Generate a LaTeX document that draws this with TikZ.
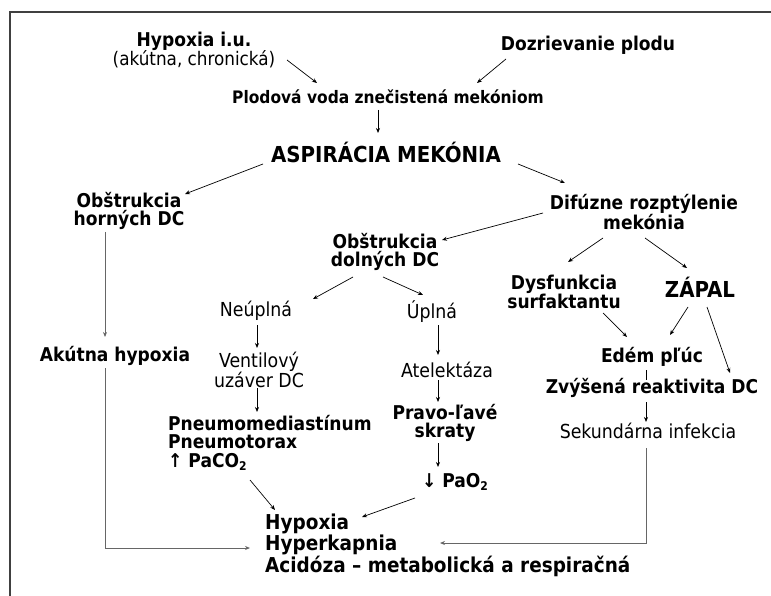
\documentclass[tikz,border=0pt]{standalone}
\usepackage{fontspec}
\setmainfont{DejaVu Sans Condensed}
\usetikzlibrary{arrows.meta,calc}
\newcommand\mysubtwo{\raisebox{-0.35ex}{\fontsize{12}{12}\selectfont 2}}
\begin{document}
\begin{tikzpicture}[x=1pt,y=-1pt,
  lbl/.style={inner sep=0pt, align=center},
  bold/.style={lbl, font=\fontsize{19}{18.5}\selectfont\bfseries},
  reg/.style={lbl, font=\fontsize{19.3}{18.5}\selectfont},
  big/.style={lbl, font=\fontsize{22}{24}\selectfont\bfseries},
  res/.style={lbl, align=left, anchor=west, font=\fontsize{20.5}{18.5}\selectfont\bfseries},
  arr/.style={-{Stealth[length=5pt,width=4pt]}, line width=0.7pt},
  route/.style={arr, draw=black!60, line width=1pt},
  frame/.style={draw=black!75, line width=1.6pt}]
\useasboundingbox (0,0) rectangle (771,596);
\draw[frame] (10,596) -- (10,12) -- (771,12);

\node[lbl] (hyp) at (194,50) {{\fontsize{19}{17}\selectfont\bfseries Hypoxia i.u.}\\[-1pt]{\fontsize{18.7}{17}\selectfont (akútna, chronická)}};
\node[bold] (dozr) at (588,45) {Dozrievanie plodu};
\node[bold, font=\fontsize{17.2}{17}\selectfont\bfseries] (plod) at (388,97) {Plodová voda znečistená mekóniom};
\node[big] (asp) at (386,152) {ASPIRÁCIA MEKÓNIA};
\node[bold] (obsh) at (129,211) {Obštrukcia\\horných DC};
\node[bold] (dif) at (644,212) {Difúzne rozptýlenie\\mekónia};
\node[bold] (obsd) at (385,252) {Obštrukcia\\dolných DC};
\node[bold] (akut) at (115,356) {Akútna hypoxia};
\node[reg] (neup) at (256,311) {Neúplná};
\node[reg] (upl) at (432,312) {Úplná};
\node[reg] (vent) at (259,370) {Ventilový\\uzáver DC};
\node[reg] (atel) at (447,370) {Atelektáza};
\node[bold] (dys) at (564,292) {Dysfunkcia\\surfaktantu};
\node[big] (zap) at (700,287) {ZÁPAL};
\node[bold] (edem) at (652,357) {Edém pľúc};
\node[bold] (zvys) at (652,388) {Zvýšená reaktivita DC};
\node[bold, align=left, anchor=west] (pneu) at (168,443) {Pneumomediastínum\\Pneumotorax\\↑ PaCO\mysubtwo};
\node[bold] (prav) at (445,423) {Pravo-ľavé\\skraty};
\node[bold] (pao) at (455,482) {↓ PaO\mysubtwo};
\node[reg] (sek) at (648,431) {Sekundárna infekcia};
\node[res] (hyx) at (265,545) {Hypoxia\\Hyperkapnia\\Acidóza – metabolická a respiračná};

\draw[arr] ($(hyp)+(93,10)$) -- ($(plod)+(-71,-14)$);
\draw[arr] ($(dozr)+(-82,14)$) -- ($(plod)+(89,-14)$);
\draw[arr] ($(plod)+(-10,13)$) -- ($(asp)+(-8,-19)$);
\draw[arr] ($(asp)+(-123,12)$) -- ($(obsh)+(56,-17)$);
\draw[arr] ($(asp)+(132,12)$) -- ($(dif)+(-79,-29)$);
\draw[route] ($(obsh)+(-24,21)$) -- ($(akut)+(-10,-19)$);
\draw[arr] ($(dif)+(-101,1)$) -- ($(obsd)+(57,-12)$);
\draw[arr] ($(obsd)+(-32,25)$) -- ($(neup)+(57,-12)$);
\draw[arr] ($(obsd)+(-2,25)$) -- ($(upl)+(-9,-17)$);
\draw[arr] ($(neup)+(1,14)$) -- ($(vent)+(-2,-22)$);
\draw[arr] ($(vent)+(-2,18)$) -- ($(pneu.west)+(89,-31)$);
\draw[arr] ($(upl)+(6,13)$) -- ($(atel)+(-9,-15)$);
\draw[arr] ($(atel)+(-9,10)$) -- ($(prav)+(-7,-21)$);
\draw[arr] ($(prav)+(-7,20)$) -- ($(pao)+(-17,-15)$);
\draw[arr] ($(pao)+(-40,16)$) -- ($(hyx.west)+(97,-28)$);
\draw[arr] ($(pneu.west)+(82,37)$) -- ($(hyx.west)+(10,-35)$);
\draw[arr] ($(dif)+(-41,26)$) -- ($(dys)+(4,-30)$);
\draw[arr] ($(dif)+(1,26)$) -- ($(zap)+(-13,-19)$);
\draw[arr] ($(dys)+(39,21)$) -- ($(edem)+(-25,-20)$);
\draw[arr] ($(zap)+(-12,20)$) -- ($(edem)+(18,-22)$);
\draw[arr] ($(zap)+(7,20)$) -- ($(zvys)+(78,-15)$);
\draw[line width=0.7pt] ($(edem)+(-6,13)$) -- ($(zvys)+(-6,-8)$);
\draw[arr] ($(zvys)+(-6,14)$) -- ($(sek)+(-2,-9)$);
\draw[route] ($(sek)+(-2,17)$) |- ($(hyx.west)+(175,-2)$);
\draw[route] ($(akut)+(-10,12)$) |- ($(hyx.west)+(-15,3)$);
\end{tikzpicture}
\end{document}
